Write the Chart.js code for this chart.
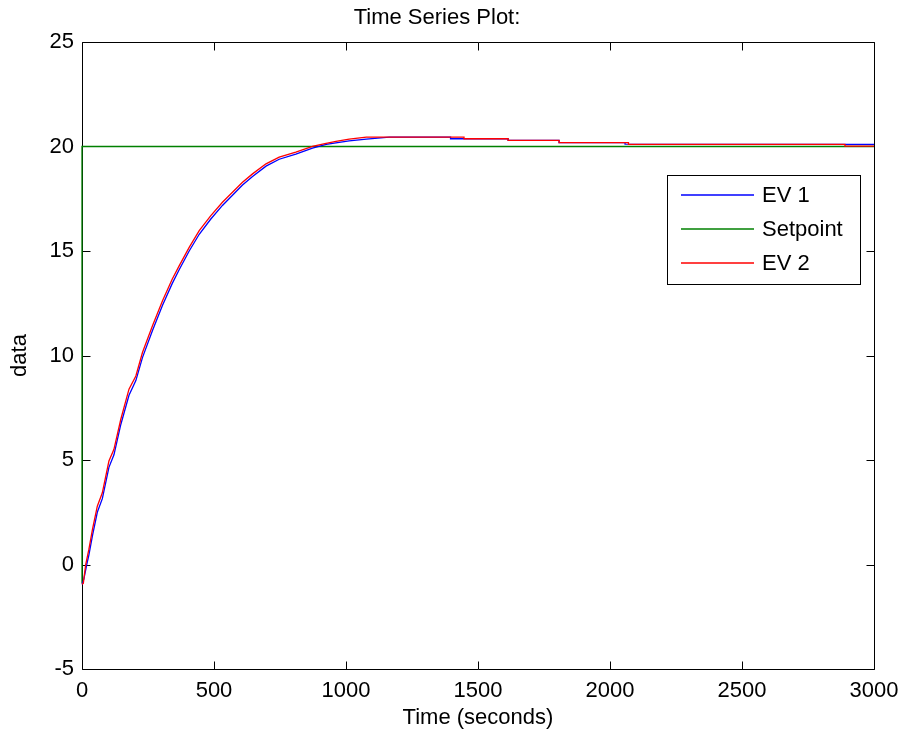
<!DOCTYPE html>
<html>
<head>
<meta charset="utf-8">
<script src="https://cdn.jsdelivr.net/npm/chart.js@4.4.1/dist/chart.umd.min.js"></script>
<style>
  body { margin: 0; background: #fff; }
  canvas { display: block; }
</style>
</head>
<body>
<canvas id="myChart" width="904" height="735"></canvas>
<script>
// values
var timeEv1 = [0, 7, 18, 26, 40, 58, 77, 102, 121, 147, 178, 204, 229, 267, 305, 342, 368, 406, 444, 488,
  532, 570, 608, 646, 697, 747, 810, 873, 925, 968, 1012, 1077, 1164, 1396, 1396, 1614, 1614, 1807, 1807,
  2057, 2057, 3000];
var valuesEv1 = [-0.95, -0.7, 0.0, 0.45, 1.4, 2.5, 3.15, 4.65, 5.25, 6.7, 8.1, 8.8, 9.9, 11.2, 12.4, 13.45,
  14.1, 15.0, 15.8, 16.53, 17.18, 17.67, 18.16, 18.57, 19.06, 19.39, 19.64, 19.92, 20.1, 20.19, 20.27,
  20.35, 20.45, 20.45, 20.37, 20.37, 20.29, 20.29, 20.19, 20.19, 20.11, 20.1];

var timeSetpoint = [0, 0, 3000];
var valuesSetpoint = [-0.9, 20, 20];

var timeEv2 = [0, 5, 14, 26, 40, 58, 77, 102, 121, 147, 178, 204, 229, 267, 305, 342, 368, 406, 444, 488,
  532, 570, 608, 646, 697, 747, 810, 873, 920, 962, 1012, 1077, 1447, 1447, 1614, 1614, 1807, 1807,
  2070, 2070, 2890, 2890, 3000];
var valuesEv2 = [-0.95, -0.9, 0.0, 0.72, 1.7, 2.79, 3.43, 4.95, 5.51, 6.95, 8.39, 9.02, 10.14, 11.42, 12.62,
  13.66, 14.29, 15.17, 15.97, 16.69, 17.33, 17.81, 18.29, 18.69, 19.17, 19.49, 19.73, 20.01, 20.14, 20.25,
  20.35, 20.45, 20.45, 20.37, 20.37, 20.29, 20.29, 20.19, 20.19, 20.1, 20.1, 20.02, 20.02];

var seriesNames = ['EV 1', 'Setpoint', 'EV 2'];
var seriesColors = ['#0000ff', '#008000', '#ff0000'];

var xTicks = [0, 500, 1000, 1500, 2000, 2500, 3000];
var yTicks = [-5, 0, 5, 10, 15, 20, 25];

var FONT = 'Liberation Sans, Arial, sans-serif';

function toPoints(xs, ys) {
  return xs.map(function(x, i) { return {x: x, y: ys[i]}; });
}

// box round the axes with inward ticks on all four sides, matlab style
var framePlugin = {
  id: 'frame',
  beforeDatasetsDraw: function(chart) {
    var ctx = chart.ctx, a = chart.chartArea;
    var L = Math.round(a.left) + 0.5, R = Math.round(a.right) + 0.5;
    var T = Math.round(a.top) + 0.5, B = Math.round(a.bottom) + 0.5;
    var len = 8;
    ctx.save();
    ctx.strokeStyle = '#000';
    ctx.lineWidth = 1;
    ctx.beginPath();
    ctx.rect(L, T, R - L, B - T);
    chart.scales.x.ticks.forEach(function(t) {
      var px = Math.round(chart.scales.x.getPixelForValue(t.value)) + 0.5;
      ctx.moveTo(px, B); ctx.lineTo(px, B - len);
      ctx.moveTo(px, T); ctx.lineTo(px, T + len);
    });
    chart.scales.y.ticks.forEach(function(t) {
      var py = Math.round(chart.scales.y.getPixelForValue(t.value)) + 0.5;
      ctx.moveTo(L, py); ctx.lineTo(L + len, py);
      ctx.moveTo(R, py); ctx.lineTo(R - len, py);
    });
    ctx.stroke();
    ctx.restore();
  }
};

// legend box inside the plot, top right
var boxLegend = {
  id: 'boxLegend',
  afterDatasetsDraw: function(chart) {
    var ctx = chart.ctx;
    var left = 667, top = 175, w = 193, h = 109;
    var rows = [195, 229, 263];
    ctx.save();
    ctx.fillStyle = '#fff';
    ctx.fillRect(left, top, w, h);
    ctx.strokeStyle = '#000';
    ctx.lineWidth = 1;
    ctx.strokeRect(left + 0.5, top + 0.5, w, h);
    ctx.font = '22px ' + FONT;
    ctx.textBaseline = 'middle';
    ctx.textAlign = 'left';
    seriesNames.forEach(function(name, i) {
      ctx.beginPath();
      ctx.strokeStyle = seriesColors[i];
      ctx.lineWidth = 1.6;
      ctx.moveTo(681, rows[i]); ctx.lineTo(754, rows[i]);
      ctx.stroke();
      ctx.fillStyle = '#000';
      ctx.fillText(name, 762, rows[i] + 1);
    });
    ctx.restore();
  }
};

window.addEventListener('load', function() {
  var ctx = document.getElementById('myChart').getContext('2d');
  var chart = new Chart(ctx, {
    type: 'line',
    data: {
      datasets: [{
        label: seriesNames[0],
        data: toPoints(timeEv1, valuesEv1),
        borderColor: seriesColors[0],
        order: 1
      }, {
        label: seriesNames[1],
        data: toPoints(timeSetpoint, valuesSetpoint),
        borderColor: seriesColors[1],
        order: 2
      }, {
        label: seriesNames[2],
        data: toPoints(timeEv2, valuesEv2),
        borderColor: seriesColors[2],
        order: 0
      }]
    },
    options: {
      responsive: false,
      animation: false,
      devicePixelRatio: 1,
      layout: { padding: { top: 0, left: 0, right: 30, bottom: 0 } },
      elements: {
        point: { radius: 0 },
        line: { borderWidth: 1.3, tension: 0, fill: false }
      },
      datasets: { line: { clip: 3 } },
      plugins: {
        legend: { display: false },
        tooltip: { enabled: false },
        title: {
          display: true,
          text: 'Time Series Plot:',
          color: '#000',
          font: { family: FONT, size: 22, weight: 'normal' },
          padding: { top: 5, bottom: 10.6 }
        }
      },
      scales: {
        x: {
          type: 'linear',
          min: 0,
          max: 3000,
          afterBuildTicks: function(s) { s.ticks = xTicks.map(function(v) { return {value: v}; }); },
          afterFit: function(s) { s.height = 66; s.paddingLeft = 0; s.paddingRight = 0; },
          grid: { display: false, drawTicks: false },
          border: { display: false },
          ticks: {
            color: '#000', padding: 8.5, font: { family: FONT, size: 22 }, maxRotation: 0, autoSkip: false,
            callback: function(v) { return String(v); }
          },
          title: {
            display: true,
            text: 'Time (seconds)',
            color: '#000',
            font: { family: FONT, size: 22 },
            padding: { top: 0, bottom: 3.8 }
          }
        },
        y: {
          min: -5,
          max: 25,
          afterBuildTicks: function(s) { s.ticks = yTicks.map(function(v) { return {value: v}; }); },
          afterFit: function(s) { s.width = 82; },
          grid: { display: false, drawTicks: false },
          border: { display: false },
          ticks: {
            color: '#000', padding: 8, font: { family: FONT, size: 22 }, autoSkip: false,
            callback: function(v) { return String(v); }
          },
          title: {
            display: true,
            text: 'data',
            color: '#000',
            font: { family: FONT, size: 22 },
            padding: { top: 6.8, bottom: 0 }
          }
        }
      }
    },
    plugins: [framePlugin, boxLegend]
  });
});
</script>
</body>
</html>
